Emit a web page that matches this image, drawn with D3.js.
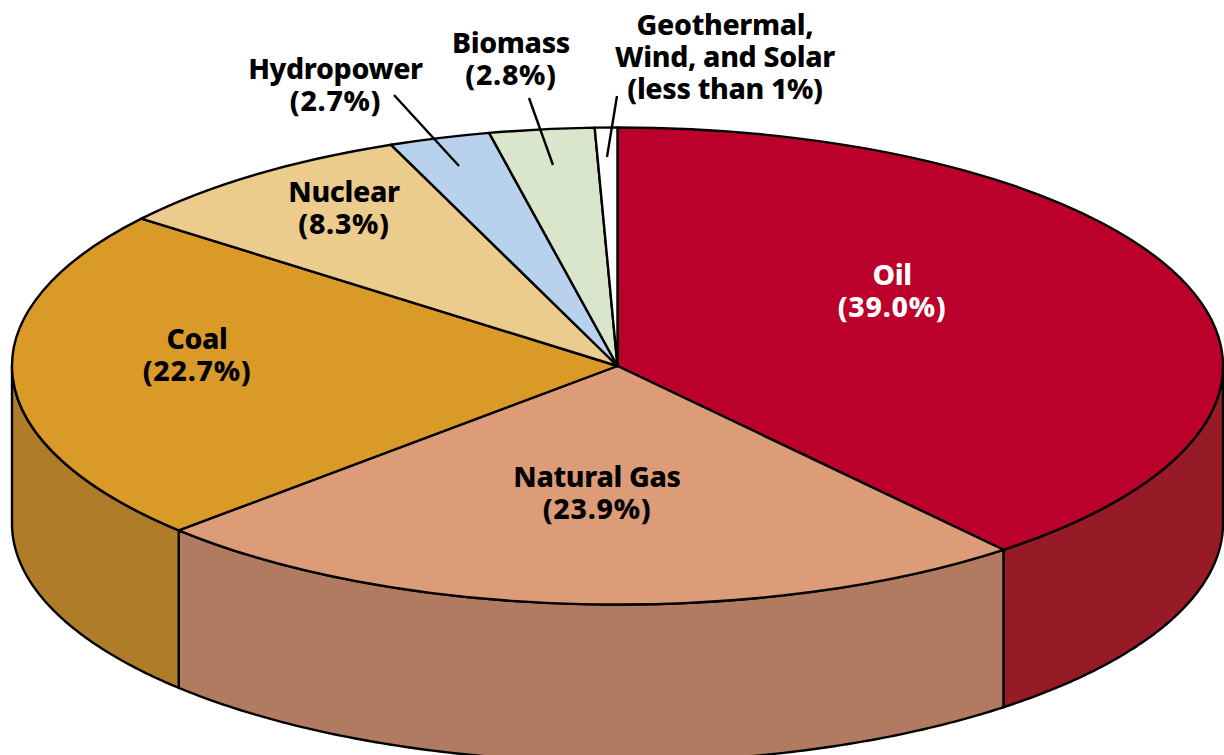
<!DOCTYPE html>
<html>
<head>
<meta charset="utf-8">
<script src="https://cdn.jsdelivr.net/npm/d3@7"></script>
<style>
  html, body { margin: 0; padding: 0; background: #fff; overflow: hidden; }
  svg { display: block; }
  text { font-family: "Noto Sans", sans-serif; font-weight: 800; font-size: 28.5px; text-anchor: middle; letter-spacing: -0.35px; }
  tspan.pct { letter-spacing: 0.7px; }
</style>
</head>
<body>
<svg id="chart" width="1224" height="755"></svg>
<script>
// Values, percent of the total
const categories = ['Oil', 'Natural Gas', 'Coal', 'Nuclear', 'Hydropower', 'Biomass', 'Geothermal'];
const shares = [39.0, 23.9, 22.7, 8.3, 2.7, 2.8, 0.6];
const topColors = ['#ba002b', '#db9c77', '#d99a28', '#ebcc8c', '#b8d2ed', '#dae6cc', '#ffffff'];
const sideColors = ['#961b26', '#b07b60', '#af7d2a', '#c4a870', '#94aac0', '#b0baa4', '#cccccc'];
const labelLines = [
  ['Oil', '(39.0%)'],
  ['Natural Gas', '(23.9%)'],
  ['Coal', '(22.7%)'],
  ['Nuclear', '(8.3%)'],
  ['Hydropower', '(2.7%)'],
  ['Biomass', '(2.8%)'],
  ['Geothermal,', 'Wind, and Solar', '(less than 1%)']
];

// Layout of the labels and leaders, first baseline and centre line
const labelX = [892, 597, 197, 344, 335.5, 511, 725];
const labelY = [285, 487, 349, 202, 79, 53, 35];
const labelFill = ['#fff', '#000', '#000', '#000', '#000', '#000', '#000'];
const leaders = [
  {from: [394, 95], to: [459, 166]},
  {from: [529, 98], to: [553, 165]},
  {from: [617, 96], to: [607, 157]}
];

const cx = 617.5, cy = 366, rx = 605.5, ry = 238.5, depth = 157.5;
const svg = d3.select('#chart');

const x = d3.scaleLinear().domain([-1, 1]).range([cx - rx, cx + rx]);
const y = d3.scaleLinear().domain([-1, 1]).range([cy - ry, cy + ry]);

const slices = d3.pie().sort(null).value(d => d)(shares);

// Rim point for an angle measured clockwise from 12 o'clock
const rim = (a, drop) => [x(Math.sin(a)), y(-Math.cos(a)) + drop];
const rimLine = d3.line();

// Walls: only the front half of the ellipse shows
const wallPath = s => {
  const a0 = Math.max(s.startAngle, Math.PI / 2),
      a1 = Math.min(s.endAngle, Math.PI * 1.5);
  if (a1 <= a0) return null;
  const steps = d3.range(0, 121).map(i => a0 + (a1 - a0) * i / 120);
  const top = steps.map(a => rim(a, 0));
  const bottom = steps.slice().reverse().map(a => rim(a, depth));
  return rimLine(top.concat(bottom)) + 'Z';
};

svg.append('g').selectAll('path')
    .data(slices.filter(wallPath))
    .join('path')
    .attr('d', wallPath)
    .attr('fill', d => sideColors[d.index])
    .attr('stroke', '#000')
    .attr('stroke-width', 2.4)
    .attr('stroke-linejoin', 'round');

// Top face: a plain d3 arc squashed to an ellipse
const arc = d3.arc().innerRadius(0).outerRadius(rx);

svg.append('g')
    .attr('transform', `translate(${cx},${cy}) scale(1,${ry / rx})`)
  .selectAll('path')
    .data(slices)
    .join('path')
    .attr('d', arc)
    .attr('fill', d => topColors[d.index])
    .attr('stroke', '#000')
    .attr('stroke-width', 2.4)
    .attr('stroke-linejoin', 'round')
    .attr('vector-effect', 'non-scaling-stroke');

svg.append('g').selectAll('line')
    .data(leaders)
    .join('line')
    .attr('x1', d => d.from[0])
    .attr('y1', d => d.from[1])
    .attr('x2', d => d.to[0])
    .attr('y2', d => d.to[1])
    .attr('stroke', '#000')
    .attr('stroke-width', 2.4);

const labels = svg.append('g').selectAll('text')
    .data(labelLines)
    .join('text')
    .attr('fill', (d, i) => labelFill[i])
    .attr('data-category', (d, i) => categories[i]);

labels.selectAll('tspan')
    .data((d, i) => d.map((t, j) => ({t, j, i})))
    .join('tspan')
    .classed('pct', d => /^\(\d/.test(d.t))
    .attr('x', d => labelX[d.i])
    .attr('y', d => labelY[d.i] + d.j * 32)
    .text(d => d.t);
</script>
</body>
</html>
